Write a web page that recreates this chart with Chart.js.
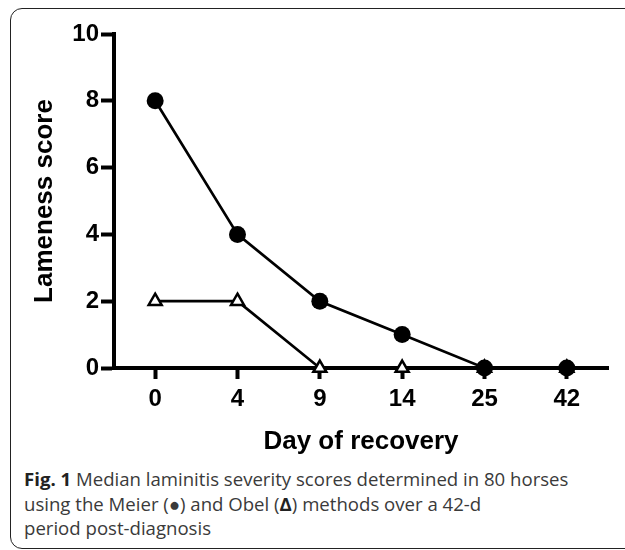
<!DOCTYPE html>
<html lang="en">
<head>
  <meta charset="UTF-8" />
  <title>Median laminitis severity scores</title>
  <script src="https://cdn.jsdelivr.net/npm/chart.js"></script>
  <style>
    html, body { margin: 0; padding: 0; background: #fff; overflow: hidden; }
    body { width: 625px; height: 550px; position: relative; }
    #frame {
      position: absolute; left: 10px; top: 8px; width: 640px; height: 539px;
      border: 1.5px solid #222; border-radius: 12px;
    }
    #chartBox { position: absolute; left: 0; top: 0; width: 625px; height: 462px; }
    #caption {
      position: absolute; left: 24px; top: 467px; width: 595px;
      font-family: "Open Sans", sans-serif; font-size: 18.6px; line-height: 24.5px;
      color: #3a3a3a;
    }
    #caption b { color: #222; }
  </style>
</head>
<body>
  <div id="frame"></div>
  <div id="chartBox">
    <canvas id="lamChart" width="625" height="462"></canvas>
  </div>
  <div id="caption">
    <b>Fig. 1</b> Median laminitis severity scores determined in 80 horses<br>
    using the Meier (●) and Obel (<b>Δ</b>) methods over a 42-d<br>
    period post-diagnosis
  </div>

  <script>
    const days = ['0', '4', '9', '14', '25', '42'];
    const meier = [8, 4, 2, 1, 0, 0];
    const obel = [2, 2, 0, 0, 0, 0];
    const yTicks = [0, 2, 4, 6, 8, 10];

    const FONT = '"Liberation Sans", Arial, sans-serif';
    const ctx = document.getElementById('lamChart').getContext('2d');

    new Chart(ctx, {
      type: 'line',
      data: {
        labels: days,
        datasets: [
          {
            label: 'Meier',
            data: meier,
            borderColor: '#000',
            borderWidth: 2.7,
            pointStyle: 'circle',
            pointRadius: 8.5,
            pointBackgroundColor: '#000',
            pointBorderColor: '#000',
            pointBorderWidth: 0,
            tension: 0,
            clip: false
          },
          {
            label: 'Obel',
            data: obel,
            borderColor: '#000',
            borderWidth: 2.7,
            pointStyle: 'triangle',
            pointRadius: 7.5,
            pointBackgroundColor: '#fff',
            pointBorderColor: '#000',
            pointBorderWidth: 2.5,
            tension: 0,
            clip: false
          }
        ]
      },
      options: {
        responsive: false,
        animation: false,
        layout: { padding: { left: 25, right: 17, top: 34, bottom: 2 } },
        plugins: { legend: { display: false }, tooltip: { enabled: false } },
        scales: {
          x: {
            offset: true,
            z: 1,
            grid: {
              offset: false, drawOnChartArea: false, drawTicks: true,
              tickLength: 11, tickWidth: 4, tickColor: '#000'
            },
            border: { display: true, color: '#000', width: 4 },
            ticks: {
              color: '#000', padding: 6, maxRotation: 0,
              font: { family: FONT, size: 24, weight: 'bold' }
            },
            title: {
              display: true, text: 'Day of recovery', color: '#000',
              font: { family: FONT, size: 26, weight: 'bold' },
              padding: { top: 6, bottom: 3 }
            }
          },
          y: {
            min: 0,
            max: 10,
            afterBuildTicks: (scale) => { scale.ticks = yTicks.map(v => ({ value: v })); },
            afterFit: (scale) => { scale.width = 89; },
            grid: {
              drawOnChartArea: false, drawTicks: true,
              tickLength: 13, tickWidth: 4, tickColor: '#000'
            },
            border: { display: true, color: '#000', width: 4 },
            ticks: {
              color: '#000', padding: 2,
              font: { family: FONT, size: 24, weight: 'bold' }
            },
            title: {
              display: true, text: 'Lameness score', color: '#000',
              font: { family: FONT, size: 26, weight: 'bold' },
              padding: { top: 4, bottom: 4 }
            }
          }
        }
      }
    });
  </script>
</body>
</html>
